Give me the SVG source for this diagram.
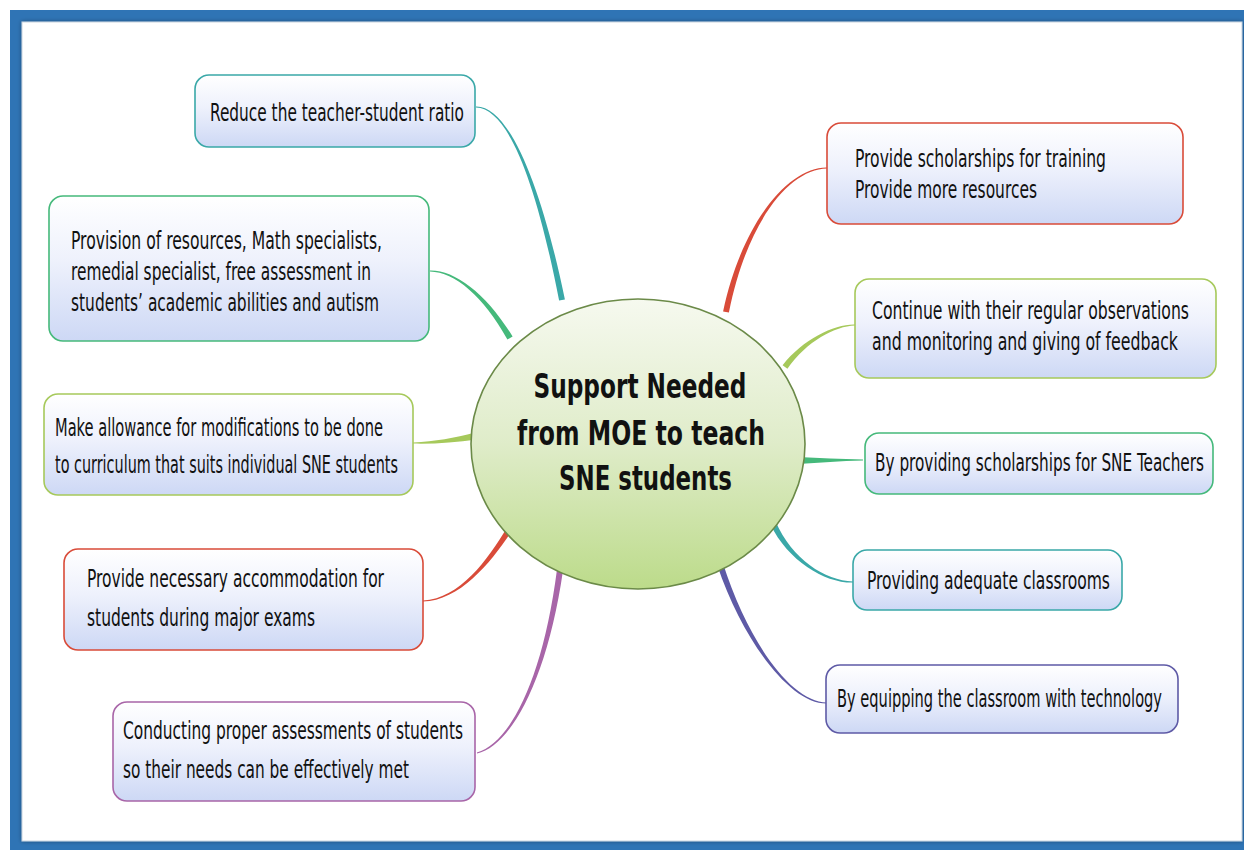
<svg xmlns="http://www.w3.org/2000/svg" width="1244" height="850" viewBox="0 0 1244 850">
  <defs>
    <linearGradient id="boxFill" x1="0" y1="0" x2="0" y2="1">
      <stop offset="0" stop-color="#ffffff"/>
      <stop offset="0.45" stop-color="#eef1fc"/>
      <stop offset="1" stop-color="#cdd8f5"/>
    </linearGradient>
    <linearGradient id="hubFill" x1="0" y1="0" x2="0" y2="1">
      <stop offset="0" stop-color="#f6f9ef"/>
      <stop offset="0.5" stop-color="#dfecc9"/>
      <stop offset="1" stop-color="#bcdb8a"/>
    </linearGradient>
    <filter id="panelShadow" x="-5%" y="-5%" width="110%" height="110%">
      <feDropShadow dx="0" dy="0" stdDeviation="2" flood-color="#000000" flood-opacity="0.35"/>
    </filter>
  </defs>
  <style>
    .box { fill: url(#boxFill); stroke-width: 1.6; }
    .label { font-family: "Liberation Sans Narrow", "DejaVu Sans Condensed", "Liberation Sans", sans-serif; font-size: 25px; fill: #111111; }
    .title { font-family: "Liberation Sans Narrow", "DejaVu Sans Condensed", "Liberation Sans", sans-serif; font-size: 33px; font-weight: bold; fill: #111111; text-anchor: middle; }
    .teal { stroke: #3aa8a8; }
    .green { stroke: #45b97b; }
    .lime { stroke: #a6c95b; }
    .red { stroke: #d94b39; }
    .purple { stroke: #a865a8; }
    .indigo { stroke: #5e5aa6; }
    .f-teal { fill: #3aa8a8; }
    .f-green { fill: #45b97b; }
    .f-lime { fill: #a6c95b; }
    .f-red { fill: #d94b39; }
    .f-purple { fill: #a865a8; }
    .f-indigo { fill: #5e5aa6; }
  </style>

  <!-- frame -->
  <rect x="0" y="0" width="1244" height="850" fill="#ffffff"/>
  <rect x="10" y="10" width="1260" height="860" fill="#2f74b5"/>
  <rect x="22" y="22" width="1220" height="819" fill="#ffffff" stroke="#c9d3de" stroke-width="1" filter="url(#panelShadow)"/>

  <!-- tapered branches, thin at the boxes and widening toward the hub -->
  <g id="connectors">
    <path class="f-teal" d="M476,107.6 C510,108.4 537.8,190.4 559.1,300.6 L564.9,299.4 C542.2,189.6 510,105.6 476,106.4 Z"/>
    <path class="f-green" d="M430,271.6 C455,272.2 483.1,296.1 507.4,339.5 L512.6,336.5 C486.9,293.9 455,269.8 430,270.4 Z"/>
    <path class="f-lime" d="M413,443.6 C435,444.2 455.5,442.1 476.8,439.4 L475.2,432.6 C454.5,437.9 435,441.8 413,442.4 Z"/>
    <path class="f-red" d="M423,601.6 C460,601.2 491.9,561.2 511.5,531.6 L506.5,528.4 C488.1,558.8 460,598.8 423,600.4 Z"/>
    <path class="f-purple" d="M477.1,753.6 C510.3,746.2 547.2,680.3 563,570.4 L557,569.6 C542.8,679.7 509.7,743.8 476.9,752.4 Z"/>
    <path class="f-red" d="M827,167.4 C790,166.8 742.8,219.6 723.1,311.4 L728.9,312.6 C747.2,220.4 790,169.2 827,168.6 Z"/>
    <path class="f-lime" d="M855,324.4 C835,323.8 803.2,338.7 782.6,365.2 L787.4,368.8 C806.8,341.3 835,326.2 855,325.6 Z"/>
    <path class="f-green" d="M863,459.5 C840,459 820,458 798,457 L798,464 C820,463 840,461 863,460.5 Z"/>
    <path class="f-teal" d="M853,581.4 C825,580.8 792,559.1 775.7,521.8 L770.3,524.2 C788,560.9 825,583.2 853,582.6 Z"/>
    <path class="f-indigo" d="M827,702.4 C790,701.8 747.1,639.3 722.85,563.05 L717.15,564.95 C742.9,640.7 790,704.2 827,703.6 Z"/>
  </g>

  <!-- hub -->
  <g id="hub">
    <ellipse cx="638" cy="444" rx="167" ry="145" fill="url(#hubFill)" stroke="#6b8a48" stroke-width="1.6"/>
    <text class="title" x="640" y="398" textLength="213" lengthAdjust="spacingAndGlyphs">Support Needed</text>
    <text class="title" x="641" y="445" textLength="248" lengthAdjust="spacingAndGlyphs">from MOE to teach</text>
    <text class="title" x="645.5" y="490" textLength="173" lengthAdjust="spacingAndGlyphs">SNE students</text>
  </g>

  <!-- left side -->
  <g id="ratio">
    <rect class="box teal" x="195" y="75" width="280" height="72" rx="14"/>
    <text class="label" x="210" y="121" textLength="254" lengthAdjust="spacingAndGlyphs">Reduce the teacher-student ratio</text>
  </g>
  <g id="specialists">
    <rect class="box green" x="49" y="196" width="380" height="145" rx="14"/>
    <text class="label" x="71" y="249" textLength="311" lengthAdjust="spacingAndGlyphs">Provision of resources, Math specialists,</text>
    <text class="label" x="71" y="280" textLength="300" lengthAdjust="spacingAndGlyphs">remedial specialist, free assessment in</text>
    <text class="label" x="71" y="311" textLength="308" lengthAdjust="spacingAndGlyphs">students’ academic abilities and autism</text>
  </g>
  <g id="curriculum">
    <rect class="box lime" x="44" y="394" width="369" height="101" rx="14"/>
    <text class="label" x="55" y="436" textLength="328" lengthAdjust="spacingAndGlyphs">Make allowance for modifications to be done</text>
    <text class="label" x="55" y="473" textLength="343" lengthAdjust="spacingAndGlyphs">to curriculum that suits individual SNE students</text>
  </g>
  <g id="exams">
    <rect class="box red" x="64" y="549" width="359" height="101" rx="14"/>
    <text class="label" x="87" y="587" textLength="297" lengthAdjust="spacingAndGlyphs">Provide necessary accommodation for</text>
    <text class="label" x="87" y="626" textLength="228" lengthAdjust="spacingAndGlyphs">students during major exams</text>
  </g>
  <g id="assessments">
    <rect class="box purple" x="113" y="702" width="362" height="99" rx="14"/>
    <text class="label" x="123" y="739" textLength="340" lengthAdjust="spacingAndGlyphs">Conducting proper assessments of students</text>
    <text class="label" x="123" y="778" textLength="286" lengthAdjust="spacingAndGlyphs">so their needs can be effectively met</text>
  </g>

  <!-- right side: lines set in a horizontally condensed frame (scale 0.7) -->
  <g id="scholarships-training">
    <rect class="box red" x="827" y="123" width="356" height="101" rx="14"/>
    <text class="label" transform="translate(855,167) scale(0.7,1)" x="0" y="0" textLength="358.6" lengthAdjust="spacingAndGlyphs">Provide scholarships for training</text>
    <text class="label" transform="translate(855,198) scale(0.7,1)" x="0" y="0" textLength="260" lengthAdjust="spacingAndGlyphs">Provide more resources</text>
  </g>
  <g id="observations">
    <rect class="box lime" x="855" y="279" width="361" height="99" rx="14"/>
    <text class="label" transform="translate(872,319) scale(0.7,1)" x="0" y="0" textLength="452.9" lengthAdjust="spacingAndGlyphs">Continue with their regular observations</text>
    <text class="label" transform="translate(872,350) scale(0.7,1)" x="0" y="0" textLength="437.1" lengthAdjust="spacingAndGlyphs">and monitoring and giving of feedback</text>
  </g>
  <g id="scholarships-sne">
    <rect class="box green" x="865" y="433" width="348" height="61" rx="14"/>
    <text class="label" transform="translate(875,471) scale(0.7,1)" x="0" y="0" textLength="470" lengthAdjust="spacingAndGlyphs">By providing scholarships for SNE Teachers</text>
  </g>
  <g id="classrooms">
    <rect class="box teal" x="853" y="550" width="269" height="60" rx="14"/>
    <text class="label" transform="translate(867,589) scale(0.7,1)" x="0" y="0" textLength="347.1" lengthAdjust="spacingAndGlyphs">Providing adequate classrooms</text>
  </g>
  <g id="technology">
    <rect class="box indigo" x="826" y="665" width="352" height="68" rx="14"/>
    <text class="label" transform="translate(837,707) scale(0.7,1)" x="0" y="0" textLength="464.3" lengthAdjust="spacingAndGlyphs">By equipping the classroom with technology</text>
  </g>
</svg>
